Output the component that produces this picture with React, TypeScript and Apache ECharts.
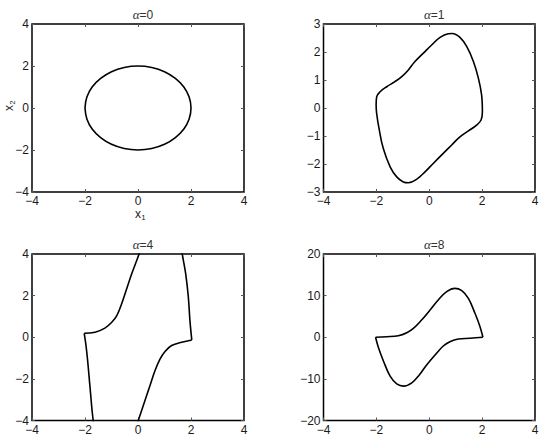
import React, { useEffect, useRef } from "react";
import * as echarts from "echarts";

// α = 0 : closed cycle
const alpha0: number[][] = [
  [-2, 0], [-1.93, 0.52], [-1.73, 1.0], [-1.41, 1.41], [-1.0, 1.73], [-0.52, 1.93], [0, 2],
  [0.52, 1.93], [1.0, 1.73], [1.41, 1.41], [1.73, 1.0], [1.93, 0.52], [2, 0],
  [1.93, -0.52], [1.73, -1.0], [1.41, -1.41], [1.0, -1.73], [0.52, -1.93], [0, -2],
  [-0.52, -1.93], [-1.0, -1.73], [-1.41, -1.41], [-1.73, -1.0], [-1.93, -0.52], [-2, 0],
];

// α = 1
const alpha1: number[][] = [
  [-2.01, 0.11], [-1.99, 0.40], [-1.86, 0.58], [-1.61, 0.76], [-1.30, 0.94], [-1.04, 1.12],
  [-0.79, 1.36], [-0.54, 1.66], [-0.22, 1.96], [0.09, 2.25], [0.41, 2.52], [0.72, 2.65],
  [0.87, 2.66], [1.16, 2.52], [1.42, 2.19], [1.67, 1.66], [1.86, 1.06], [1.98, 0.47],
  [2.01, -0.13], [1.96, -0.43], [1.79, -0.61], [1.48, -0.82], [1.16, -1.03], [0.85, -1.32],
  [0.53, -1.62], [0.15, -1.98], [-0.16, -2.28], [-0.47, -2.54], [-0.79, -2.67], [-0.98, -2.64],
  [-1.23, -2.46], [-1.48, -2.10], [-1.74, -1.44], [-1.90, -0.73], [-1.99, -0.19], [-2.01, 0.11],
];

// α = 4 (upper and lower branches, corner to corner)
const alpha4Upper: number[][] = [
  [-2.03, 0.19], [-1.62, 0.24], [-1.25, 0.44], [-0.99, 0.72], [-0.80, 1.04], [-0.62, 1.60],
  [-0.43, 2.32], [-0.24, 3.04], [0.04, 4.0], [0.4, 5.4], [0.9, 6.5], [1.3, 6.2], [1.55, 5.0],
  [1.67, 4.0], [1.80, 3.04], [1.90, 1.92], [1.96, 0.80], [2.03, -0.13],
];
const alpha4Lower: number[][] = [
  [2.03, -0.13], [1.65, -0.24], [1.27, -0.40], [1.02, -0.68], [0.83, -1.05], [0.64, -1.61],
  [0.45, -2.33], [0.26, -3.05], [0.01, -4.0], [-0.4, -5.4], [-0.9, -6.5], [-1.3, -6.2],
  [-1.55, -5.0], [-1.69, -4.0], [-1.81, -2.41], [-1.90, -1.13], [-1.97, -0.32], [-2.03, 0.19],
];

// α = 8
const alpha8Upper: number[][] = [
  [-2.03, 0.0], [-1.61, 0.13], [-1.17, 0.38], [-0.85, 1.10], [-0.60, 2.14], [-0.29, 4.14],
  [0.03, 6.55], [0.34, 8.95], [0.66, 10.95], [0.97, 11.75], [1.23, 11.2], [1.48, 9.35],
  [1.73, 5.75], [1.92, 2.54], [2.03, 0.0],
];
const alpha8Lower: number[][] = [
  [2.03, 0.0], [1.54, -0.25], [1.10, -0.42], [0.78, -1.06], [0.53, -2.10], [0.22, -4.26],
  [-0.10, -6.67], [-0.37, -9.0], [-0.66, -10.95], [-0.97, -11.75], [-1.23, -11.2],
  [-1.48, -9.35], [-1.73, -5.75], [-1.92, -2.54], [-2.03, 0.0],
];

const titles = ["0", "1", "4", "8"];
const yRanges: number[][] = [
  [-4, 4, 2],
  [-3, 3, 1],
  [-4, 4, 2],
  [-20, 20, 10],
];
const xRange = [-4, 4, 2];

const grids = [
  { left: 32, top: 24, width: 212, height: 168 },
  { left: 323.5, top: 24, width: 211.5, height: 168 },
  { left: 32, top: 254, width: 212, height: 166.5 },
  { left: 323.5, top: 254, width: 211.5, height: 166.5 },
];

const FONT = "Liberation Sans";
const LABEL_COLOR = "#1a1a1a";

export default function App() {
  const ref = useRef<HTMLDivElement>(null);

  useEffect(() => {
    if (!ref.current) return;
    const chart = echarts.init(ref.current, undefined, { renderer: "svg" });

    const tick = { show: true, inside: true, length: 3, lineStyle: { color: "#555", width: 1 } };
    const fmt = (v: number) => (v < 0 ? "\u2212" + Math.abs(v) : String(v));
    const label = { color: LABEL_COLOR, fontSize: 12, fontFamily: FONT, formatter: fmt };

    const xAxis: any[] = [];
    const yAxis: any[] = [];
    grids.forEach((_, i) => {
      const base = {
        type: "value",
        gridIndex: i,
        min: xRange[0],
        max: xRange[1],
        interval: xRange[2],
        splitLine: { show: false },
        axisLine: { show: false, onZero: false },
        axisTick: tick,
      };
      xAxis.push({ ...base, position: "bottom", axisLabel: { ...label, margin: 3 } });
      xAxis.push({ ...base, position: "top", axisLabel: { show: false } });
      const yb = {
        type: "value",
        gridIndex: i,
        min: yRanges[i][0],
        max: yRanges[i][1],
        interval: yRanges[i][2],
        splitLine: { show: false },
        axisLine: { show: false, onZero: false },
        axisTick: tick,
      };
      yAxis.push({ ...yb, position: "left", axisLabel: { ...label, margin: 3 } });
      yAxis.push({ ...yb, position: "right", axisLabel: { show: false } });
    });

    const lineSeries = (data: number[][], i: number) => ({
      type: "line",
      xAxisIndex: i * 2,
      yAxisIndex: i * 2,
      data,
      showSymbol: false,
      symbol: "none",
      smooth: 0.4,
      clip: true,
      lineStyle: { color: "#000", width: 1.6 },
      silent: true,
    });

    const series = [
      lineSeries(alpha0, 0),
      lineSeries(alpha1, 1),
      lineSeries(alpha4Upper, 2),
      lineSeries(alpha4Lower, 2),
      lineSeries(alpha8Upper, 3),
      lineSeries(alpha8Lower, 3),
    ];

    const title = grids.map((g, i) => ({
      text: "{a|α}=" + titles[i],
      left: g.left + g.width / 2,
      top: g.top - 21,
      textAlign: "center",
      textStyle: {
        fontSize: 12,
        fontWeight: "normal",
        color: "#333",
        fontFamily: FONT,
        rich: {
          a: { fontFamily: "Liberation Serif", fontStyle: "italic", fontSize: 13, color: "#333" },
        },
      },
    }));

    const txt = (text: string, x: number, y: number, size: number) => ({
      type: "text",
      x,
      y,
      style: {
        text,
        fontSize: size,
        fontFamily: FONT,
        fill: LABEL_COLOR,
        align: "center",
        verticalAlign: "middle",
        textAlign: "center",
        textVerticalAlign: "middle",
      },
    });

    chart.setOption({
      animation: false,
      backgroundColor: "#fff",
      title,
      grid: grids.map((g) => ({
        ...g,
        show: true,
        borderColor: "#000",
        borderWidth: 1.5,
        backgroundColor: "transparent",
      })),
      xAxis,
      yAxis,
      series,
      graphic: [
        {
          type: "group",
          x: 138,
          y: 214,
          children: [txt("x", 0, 0, 12), txt("1", 5.5, 3.5, 8)],
        },
        {
          type: "group",
          x: 9,
          y: 108,
          rotation: Math.PI / 2,
          children: [txt("x", 0, 0, 12), txt("2", 5.5, 3.5, 8)],
        },
      ],
    });

    return () => chart.dispose();
  }, []);

  return <div ref={ref} style={{ width: 546, height: 443, position: "absolute", left: 0, top: 0 }} />;
}
